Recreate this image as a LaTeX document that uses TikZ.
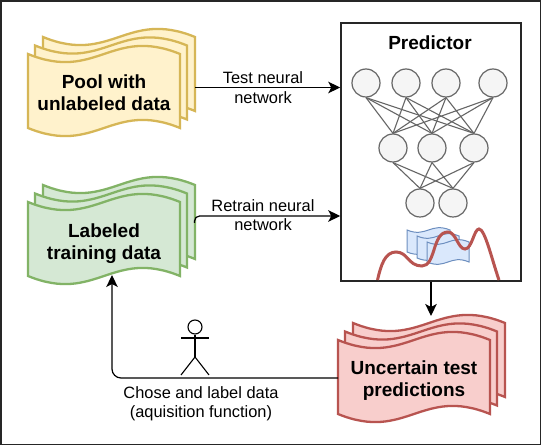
\documentclass[tikz,border=0pt]{standalone}
\usepackage{fontspec}
\setmainfont{Liberation Sans}
\usetikzlibrary{arrows.meta}
\newcommand\wavesheet[6]{%
  \draw[#1] (#2,#3)
    .. controls ({#2+.45*#4},{#3+#6}) and ({#2+.55*#4},{#3-#6}) .. ({#2+#4},#3)
    -- ({#2+#4},{#3+#5})
    .. controls ({#2+.55*#4},{#3+#5-#6}) and ({#2+.45*#4},{#3+#5+#6}) .. (#2,{#3+#5})
    -- cycle;}
\newcommand\wavestack[3]{%
  \wavesheet{#1}{#2+15}{#3-17}{152}{74}{28}%
  \wavesheet{#1}{#2+7}{#3-8.5}{152}{74}{28}%
  \wavesheet{#1}{#2}{#3}{152}{74}{28}}
\tikzset{
  x=1pt,y=-1pt,
  frame/.style={draw=black!85,line width=1.5pt},
  yellowsheet/.style={draw={rgb,255:red,214;green,182;blue,86},fill={rgb,255:red,255;green,242;blue,204},line width=2.3pt},
  greensheet/.style={draw={rgb,255:red,130;green,179;blue,102},fill={rgb,255:red,213;green,232;blue,212},line width=2.3pt},
  redsheet/.style={draw={rgb,255:red,184;green,84;blue,80},fill={rgb,255:red,248;green,206;blue,204},line width=2.3pt},
  bluesheet/.style={draw={rgb,255:red,108;green,142;blue,191},fill={rgb,255:red,218;green,232;blue,252},line width=1pt},
  neuron/.style={circle,draw={rgb,255:red,102;green,102;blue,102},fill={rgb,255:red,245;green,245;blue,245},line width=1.2pt,minimum size=28pt,inner sep=0pt},
  synapse/.style={draw={rgb,255:red,102;green,102;blue,102},line width=1.1pt},
  flow/.style={draw=black,line width=1.2pt,-{Stealth[length=12pt,width=11.5pt,inset=3pt]}},
  boldlabel/.style={font=\fontsize{19}{21.7}\selectfont\bfseries,align=center,inner sep=0pt},
  smalllabel/.style={font=\fontsize{16.4}{19.5}\selectfont,align=center,inner sep=0pt},
  stick/.style={draw=black,line width=1.1pt},
}
\begin{document}
\begin{tikzpicture}
\useasboundingbox (0,0) rectangle (542,446);
\fill[white] (0,0) rectangle (542,446);
\draw[frame] (1,1) rectangle (540.5,444.5);

% stacks
\wavestack{yellowsheet}{28}{54}
\wavestack{greensheet}{28}{202}
\wavestack{redsheet}{338}{340}
\node[boldlabel] (pool) at (104,92.5) {Pool with\\unlabeled data};
\node[boldlabel] (labeled) at (104,243.5) {Labeled\\training data};
\node[boldlabel] (uncertain) at (414,380.5) {Uncertain test\\predictions};

% anchors on the stacks
\coordinate (poolout) at (195,87.5);
\coordinate (labout) at (194.5,223);
\coordinate (labin) at (112,275);
\coordinate (uncin) at (431,316);
\coordinate (uncout) at (338,378);

% predictor
\node[draw=black!85,line width=1.5pt,fill=white,minimum width=180pt,minimum height=258pt,inner sep=0pt] (pred) at (431,152) {};
\node[font=\fontsize{19}{22}\selectfont\bfseries,inner sep=0pt] (predtitle) at (430,42.5) {Predictor};

\foreach \n/\x/\y in {a1/366/83,a2/406/83,a3/446/83,a4/493/83,b1/393/148,b2/432/148,b3/474/148,c1/420/203,c2/453/203}
  \node[neuron] (\n) at (\x,\y) {};
\foreach \s in {a1,a2,a3,a4}\foreach \t in {b1,b2,b3}
  \draw[synapse] (\s.south) -- (\t.north);
\foreach \s in {b1,b2,b3}\foreach \t in {c1,c2}
  \draw[synapse] (\s.south) -- (\t.north);

% small sheets and curve
\wavesheet{bluesheet}{407}{230}{43}{22}{8}
\wavesheet{bluesheet}{417}{236}{42}{22}{8}
\wavesheet{bluesheet}{427}{242}{42}{20}{8}
\draw[draw={rgb,255:red,184;green,84;blue,80},line width=3pt]
  (377.5,280) .. controls (381,265) and (385,252) .. (396,252)
  .. controls (408,252) and (408,266) .. (422,266)
  .. controls (436,266) and (432,232) .. (448,232)
  .. controls (456,232) and (458,249) .. (465,249)
  .. controls (472,249) and (474,229) .. (479,229)
  .. controls (485,229) and (492,260) .. (499,280);

% connectors
\draw[flow] (poolout) -- (pred.west |- poolout);
\draw[flow,rounded corners=5pt] (labout) -- (194.5,216) -- (pred.west |- 0,216);
\draw[flow] (pred.south -| uncin) -- (uncin);
\draw[flow,rounded corners=9pt] (uncout) -- (112,378) -- (labin);
\node[smalllabel] (testlabel) at (263,87.5) {Test neural\\network};
\node[smalllabel] (retrainlabel) at (263,215) {Retrain neural\\network};
\node[smalllabel] (chose) at (201,404) {Chose and label data\\(aquisition function)};

% person
\coordinate (hip) at (195,357);
\node[circle,draw=black,line width=1.1pt,minimum size=14pt,inner sep=0pt] (head) at (195,327) {};
\draw[stick] (head.south) -- (hip);
\coordinate (armL) at (181,338);
\coordinate (armR) at (209,338);
\coordinate (footL) at (181,375);
\coordinate (footR) at (209,375);
\draw[stick] (armL) -- (armR);
\draw[stick] (footL) -- (hip) -- (footR);
\end{tikzpicture}
\end{document}
